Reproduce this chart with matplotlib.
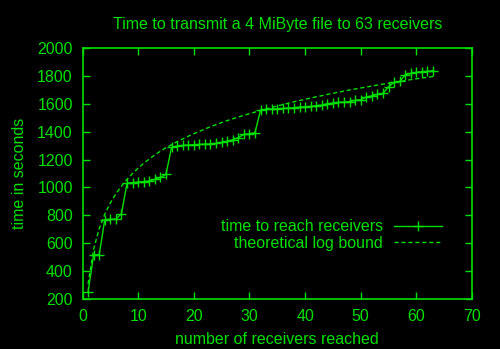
import numpy as np
import matplotlib
matplotlib.use("Agg")
from matplotlib import pyplot as plt

# receivers reached (x) and measured time (s)
receivers = list(range(1, 64))
times = [250, 515, 518, 768, 772, 772, 812, 1030, 1035, 1038,
         1042, 1046, 1058, 1072, 1094, 1287, 1297, 1301, 1304, 1306,
         1308, 1310, 1312, 1316, 1323, 1332, 1342, 1357, 1380, 1385,
         1392, 1555, 1560, 1562, 1564, 1567, 1569, 1571, 1576, 1578,
         1581, 1586, 1591, 1600, 1605, 1610, 1612, 1616, 1624, 1629,
         1648, 1657, 1667, 1674, 1722, 1753, 1760, 1808, 1818, 1825,
         1830, 1832, 1837]

# theoretical log bound
bound = [308, 558, 704, 808, 889, 954, 1010, 1058, 1100, 1138,
         1173, 1204, 1233, 1260, 1285, 1306, 1328, 1348, 1367, 1385,
         1402, 1419, 1435, 1450, 1465, 1479, 1492, 1505, 1517, 1529,
         1540, 1552, 1563, 1574, 1584, 1594, 1604, 1614, 1623, 1632,
         1641, 1650, 1658, 1667, 1675, 1683, 1691, 1699, 1706, 1713,
         1720, 1727, 1734, 1741, 1747, 1754, 1760, 1766, 1773, 1779,
         1785, 1790, 1796]

xticks = [0, 10, 20, 30, 40, 50, 60, 70]
yticks = [200, 400, 600, 800, 1000, 1200, 1400, 1600, 1800, 2000]

green = "#00e000"
fs = 11.5
plt.rcParams["font.family"] = ["Liberation Sans", "DejaVu Sans"]
plt.rcParams["font.size"] = fs
plt.rcParams["lines.scale_dashes"] = False

fig = plt.figure(figsize=(5.0, 3.49), dpi=100, facecolor="black")
ax = fig.add_axes([0.165, 0.1433, 0.779, 0.7192], facecolor="black")

ax.plot(receivers, times, color=green, lw=1.0, marker="+", ms=7, mew=1.0,
        label="time to reach receivers")
ax.plot(receivers, bound, color=green, lw=1.0, dashes=(3, 2),
        label="theoretical log bound")

ax.set_xlim(0, 70)
ax.set_ylim(200, 2000)
ax.set_xticks(xticks)
ax.set_yticks(yticks)
ax.tick_params(direction="in", length=5, width=1, colors=green,
               top=True, right=True, pad=7, labelsize=fs)
for s in ax.spines.values():
    s.set_color(green)
    s.set_linewidth(1.2)

ax.set_title("Time to transmit a 4 MiByte file to 63 receivers",
             color=green, fontsize=fs, pad=14)
ax.set_xlabel("number of receivers reached", color=green, fontsize=fs, labelpad=6)
ax.set_ylabel("time in seconds", color=green, fontsize=fs, labelpad=7)

leg = ax.legend(loc="upper right", bbox_to_anchor=(0.943, 0.35),
                frameon=False, markerfirst=False, handlelength=3.0,
                handletextpad=0.7, labelspacing=0.1, borderpad=0,
                fontsize=fs)
for t in leg.get_texts():
    t.set_color(green)

fig.savefig("out.png", dpi=100, facecolor="black")
